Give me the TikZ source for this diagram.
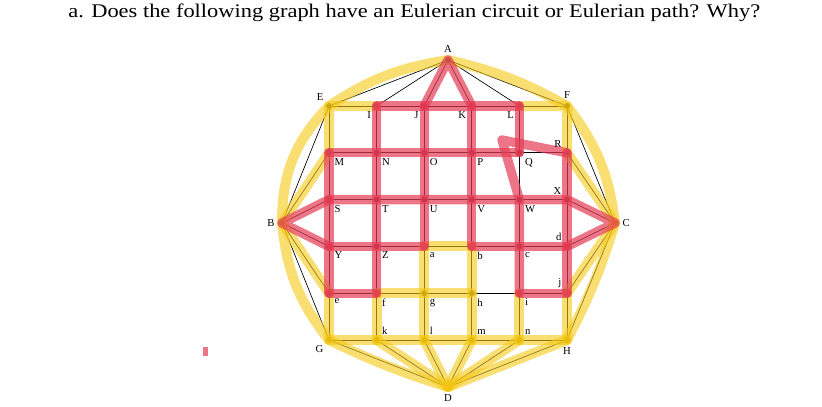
\documentclass[tikz,border=0pt]{standalone}
\usepackage{fontspec}
\setmainfont{Liberation Serif}
\usetikzlibrary{positioning}
\definecolor{hlyellowc}{RGB}{245,200,20}
\definecolor{hlredc}{RGB}{228,60,85}

\begin{document}
\begin{tikzpicture}[
    x=0.75pt, y=-0.75pt,
    vertex/.style={circle, fill=black, inner sep=0pt, minimum size=4.5pt},
    lbl/.style={font=\fontsize{8}{9}\selectfont, inner sep=0.5pt},
    edge/.style={draw=black, line width=0.5pt},
    hly/.style={draw=hlyellowc, line width=7.5pt, opacity=0.6, line cap=round, line join=round},
    hlr/.style={draw=hlredc, line width=7pt, opacity=0.7, line cap=round, line join=round}
]
    \useasboundingbox (0,0) rectangle (822,407);
    \node[anchor=base west, font=\fontsize{14.5}{16}\selectfont, inner sep=0pt, xscale=1.16] (title) at (68,17)
        {a. Does the following graph have an Eulerian circuit or Eulerian path? Why?};

    % grid vertices
    \foreach \n [count=\q from 0] in {E,I,J,K,L,F,M,N,O,P,Q,R,S,T,U,V,W,X,Y,Z,a,b,c,d,e,f,g,h,i,j,G,k,l,m,n,H} {
        \pgfmathtruncatemacro\cc{mod(\q,6)}
        \pgfmathtruncatemacro\rr{div(\q,6)}
        \node[vertex] (\n) at (329+47.6*\cc, 106+46.8*\rr) {};
    }
    \node[vertex] (A) at (448,60) {};
    \node[vertex] (B) at (282,223) {};
    \node[vertex] (C) at (615,223) {};
    \node[vertex] (D) at (448,387) {};

    % edges
    \draw[edge] (E) -- (I) -- (J) -- (K) -- (L) -- (F);
    \draw[edge] (M) -- (N) -- (O) -- (P) -- (Q) -- (R);
    \draw[edge] (S) -- (T) -- (U) -- (V) -- (W) -- (X);
    \draw[edge] (Y) -- (Z) -- (a) -- (b) -- (c) -- (d);
    \draw[edge] (e) -- (f) -- (g) -- (h) -- (i) -- (j);
    \draw[edge] (G) -- (k) -- (l) -- (m) -- (n) -- (H);
    \draw[edge] (E) -- (M) -- (S) -- (Y) -- (e) -- (G);
    \draw[edge] (I) -- (N) -- (T) -- (Z) -- (f) -- (k);
    \draw[edge] (J) -- (O) -- (U) -- (a) -- (g) -- (l);
    \draw[edge] (K) -- (P) -- (V) -- (b) -- (h) -- (m);
    \draw[edge] (L) -- (Q) -- (W) -- (c) -- (i) -- (n);
    \draw[edge] (F) -- (R) -- (X) -- (d) -- (j) -- (H);
    \foreach \n in {E,I,J,K,L,F} \draw[edge] (A) -- (\n);
    \foreach \n in {G,k,l,m,n,H} \draw[edge] (D) -- (\n);
    \foreach \n in {E,M,S,Y,e,G} \draw[edge] (B) -- (\n);
    \foreach \n in {F,R,X,d,j,H} \draw[edge] (C) -- (\n);

    % yellow highlighter
    \draw[hly] (A.center) to[bend right=12] (E.center) to[bend right=22] (B.center)
        to[bend right=16] (G.center) to[bend right=4] (D.center) -- (H.center)
        to[bend right=5] (C.center) to[bend right=15] (F.center) to[bend right=8] (A.center);
    \draw[hly] (I.center) -- (E.center) -- (M.center) -- (B.center) -- (e.center) -- (G.center);
    \draw[hly] (G.center) -- (H.center);
    \foreach \n in {k,l,m,n} \draw[hly] (\n.center) -- (D.center);
    \draw[hly] (a.center) -- (b.center);
    \draw[hly] (a.center) -- (l.center);
    \draw[hly] (b.center) -- (m.center);
    \draw[hly] (f.center) -- (h.center);
    \draw[hly] (f.center) -- (k.center);
    \draw[hly] (i.center) -- (n.center);
    \draw[hly] (j.center) -- (H.center);
    \draw[hly] (L.center) -- (F.center) -- (R.center) -- (C.center) -- (j.center);

    % red highlighter
    \coordinate (hook) at (502,140);
    \draw[hlr] (J.center) -- (A.center) -- (K.center);
    \draw[hlr] (I.center) -- (L.center);
    \draw[hlr] (M.center) -- (Q.center);
    \draw[hlr] (S.center) -- (X.center) -- (C.center) -- (d.center);
    \draw[hlr] (Y.center) -- (a.center);
    \draw[hlr] (b.center) -- (d.center);
    \draw[hlr] (e.center) -- (f.center);
    \draw[hlr] (i.center) -- (j.center);
    \draw[hlr] (M.center) -- (e.center);
    \draw[hlr] (S.center) -- (B.center) -- (Y.center);
    \draw[hlr] (I.center) -- (N.center) -- (T.center) -- (Z.center) -- (f.center);
    \draw[hlr] (J.center) -- (O.center) -- (U.center) -- (a.center);
    \draw[hlr] (K.center) -- (P.center) -- (V.center) -- (b.center);
    \draw[hlr] (L.center) -- (Q.center);
    \draw[hlr] (R.center) -- (hook) -- (W.center) -- (c.center) -- (i.center);
    \draw[hlr] (R.center) -- (j.center);
    \fill[hlredc, opacity=0.7] (203,347) rectangle (208,356);

    % labels
    \foreach \n/\p in {M/below right, N/below right, O/below right, P/below right, Q/below right,
        S/below right, T/below right, U/below right, V/below right, W/below right,
        Y/below right, Z/below right, a/below right, b/below right, c/below right,
        e/below right, f/below right, g/below right, h/below right, i/below right,
        I/below left, J/below left, K/below left, L/below left,
        R/above left, X/above left, d/above left, j/above left,
        k/above right, l/above right, m/above right, n/above right,
        E/above left, F/above, G/below left, H/below, A/above, D/below, B/left, C/right}
        \node[lbl, \p=2.5pt of \n] (l\n) {\n};
\end{tikzpicture}
\end{document}
